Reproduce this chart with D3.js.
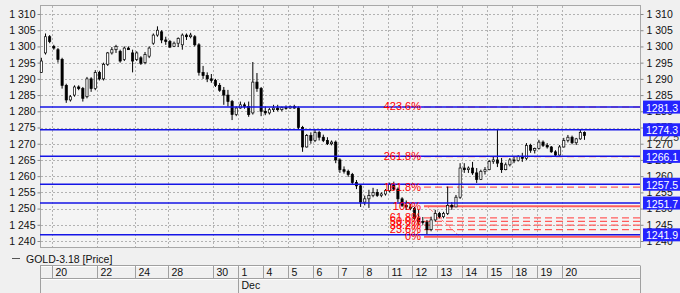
<!DOCTYPE html>
<html>
<head>
<meta charset="utf-8">
<script src="https://cdn.jsdelivr.net/npm/d3@7"></script>
<style>
body { margin: 0; background: #f0f0f0; }
svg { display: block; font-family: "Liberation Sans", Arial, sans-serif; font-size: 10.5px; }
</style>
</head>
<body>
<div id="chart"></div>
<script>
// Trading days on the chart and how many 4h bars each one holds
var dayDates = ["2017-11-17", "2017-11-20", "2017-11-21", "2017-11-22", "2017-11-23", "2017-11-24",
    "2017-11-27", "2017-11-28", "2017-11-29", "2017-11-30", "2017-12-01", "2017-12-04", "2017-12-05",
    "2017-12-06", "2017-12-07", "2017-12-08", "2017-12-11", "2017-12-12", "2017-12-13", "2017-12-14",
    "2017-12-15", "2017-12-18", "2017-12-19", "2017-12-20"];
var dayBars = [3, 5, 6, 6, 3, 2, 6, 5, 6, 6, 6, 6, 6, 6, 6, 6, 6, 6, 6, 6, 6, 6, 6, 6];

// Days that get a label on the time axis
var tickDates = ["2017-11-20", "2017-11-22", "2017-11-24", "2017-11-28", "2017-11-30", "2017-12-01",
    "2017-12-04", "2017-12-05", "2017-12-06", "2017-12-07", "2017-12-08", "2017-12-11", "2017-12-12",
    "2017-12-13", "2017-12-14", "2017-12-15", "2017-12-18", "2017-12-19", "2017-12-20"];
var monthDates = ["2017-12-01"];

// GOLD-3.18 price bars
var opens = [1292, 1298, 1303, 1300, 1299, 1296, 1288, 1283.5, 1285, 1287.5,
    1287, 1284.5, 1290, 1287, 1292, 1290, 1294.5, 1298, 1299, 1298.5,
    1296, 1299.5, 1298, 1296, 1296.5, 1295, 1297, 1301, 1303.5, 1304.5,
    1302, 1301.5, 1300, 1301, 1300.5, 1303.5, 1303, 1303, 1300.5, 1292,
    1291, 1290, 1289.5, 1288, 1286.5, 1285, 1283, 1279, 1281, 1282,
    1281.5, 1279.5, 1289, 1287, 1280, 1279.5, 1280.5, 1281, 1280.5, 1281.2,
    1281, 1281.5, 1281, 1275, 1269, 1272.5, 1271, 1273.5, 1272, 1271,
    1270, 1270.5, 1265, 1262, 1261.5, 1260.5, 1258, 1257, 1252, 1253,
    1254, 1255, 1254, 1254.5, 1255.5, 1257.5, 1256, 1253, 1251, 1250.5,
    1250, 1247, 1246, 1245.8, 1243.5, 1246.5, 1248.5, 1247.5, 1248.5, 1251,
    1250.5, 1253.5, 1262.5, 1262, 1262.5, 1261, 1259, 1261.5, 1262, 1264.5,
    1265, 1264, 1262, 1263.5, 1265, 1264.8, 1266, 1265.5, 1269.5, 1268,
    1268.5, 1270.5, 1269.5, 1269, 1267.5, 1266.5, 1269, 1271, 1272, 1270.3,
    1271.5, 1273.5];
var highs = [1296.5, 1304, 1303.5, 1300.5, 1299.5, 1296.5, 1288.5, 1285, 1288, 1288,
    1287.5, 1290.6, 1290.5, 1292.7, 1292.5, 1295, 1298.3, 1299.8, 1300.5, 1299,
    1300, 1300, 1299, 1298.5, 1297, 1298.3, 1300, 1304, 1306.2, 1305,
    1303, 1302, 1301.5, 1302.8, 1304, 1304, 1304.2, 1303.5, 1301, 1294,
    1292, 1291.5, 1290, 1288.7, 1287.5, 1286.6, 1283.5, 1281.5, 1283, 1282.7,
    1283, 1295.2, 1291.8, 1287.5, 1281.5, 1281, 1282, 1282, 1281.5, 1281.8,
    1281.8, 1282, 1281.5, 1275.5, 1273, 1273.5, 1274.4, 1274, 1272.8, 1272,
    1271, 1271, 1265.5, 1263, 1262, 1261, 1258.8, 1257.5, 1254, 1255.8,
    1256.4, 1256, 1255, 1256, 1258, 1258.3, 1256.5, 1253.5, 1252.5, 1251.5,
    1250.5, 1249.6, 1247.4, 1246.5, 1247.5, 1249.6, 1249, 1249, 1256.8, 1252,
    1254.2, 1264, 1264, 1263, 1264.4, 1262.5, 1262, 1262.8, 1265, 1266,
    1274.3, 1265.6, 1264.2, 1265.6, 1266, 1266.5, 1267.2, 1270.2, 1270, 1268.8,
    1271.2, 1271, 1270.2, 1269.3, 1268, 1269.6, 1271.8, 1272.7, 1272.5, 1271.8,
    1274.3, 1273.8];
var lows = [1291.8, 1297.5, 1301, 1299, 1295, 1287, 1282.6, 1283, 1284.5, 1286.5,
    1283, 1284, 1286, 1286.5, 1289.5, 1289.5, 1294, 1297.5, 1298, 1295,
    1295.5, 1299, 1292, 1295.5, 1294.3, 1294.5, 1296.4, 1300.5, 1303, 1301,
    1300.5, 1299.5, 1299.8, 1299.8, 1299, 1302, 1302.5, 1300, 1291, 1290,
    1289, 1288.8, 1287.5, 1286, 1282, 1281.5, 1277.3, 1278.5, 1280.8, 1280.8,
    1278.3, 1279, 1286, 1278.5, 1278.8, 1279, 1279.8, 1280, 1280, 1280.5,
    1280.8, 1280.8, 1274.3, 1267.5, 1268.8, 1270, 1270.5, 1271, 1270.5, 1269.6,
    1269.5, 1264, 1261, 1260.8, 1259.8, 1257.3, 1256, 1250.5, 1251, 1250.2,
    1253.5, 1253.6, 1253.5, 1254, 1255, 1255.5, 1252, 1250.5, 1249.6, 1249.5,
    1246.5, 1245, 1245, 1241.9, 1243, 1246, 1247, 1247, 1248, 1249.6,
    1250.5, 1253, 1261, 1261, 1260.4, 1257.9, 1258.8, 1260.5, 1261.8, 1263.8,
    1262.8, 1261, 1261.8, 1263, 1264, 1264.5, 1264.4, 1265, 1267.2, 1267,
    1268.2, 1269, 1268.5, 1267.2, 1265.9, 1266.3, 1268.8, 1270.4, 1269.8, 1269.6,
    1271.2, 1271.2];
var closes = [1295.5, 1303, 1301.5, 1299.5, 1296, 1288, 1283.5, 1284.5, 1287.5, 1287,
    1284, 1290, 1287, 1292, 1290, 1294.5, 1298, 1299, 1300, 1295.5,
    1299.5, 1299, 1295.5, 1298, 1294.8, 1297.5, 1299.5, 1303.5, 1305, 1302,
    1301.5, 1299.8, 1301, 1302.5, 1303.5, 1303, 1303.5, 1300.5, 1292, 1291,
    1290, 1289.5, 1288, 1286.5, 1285, 1283, 1279, 1281, 1282, 1281.5,
    1279, 1289, 1287, 1280, 1279.5, 1280.5, 1281, 1280.5, 1281.2, 1281,
    1281.5, 1281, 1275, 1269, 1272.5, 1271, 1273.5, 1272, 1271, 1270,
    1270.5, 1265, 1262, 1261.5, 1260.5, 1258, 1257, 1252, 1253, 1254,
    1255, 1254, 1254.5, 1255.5, 1257.5, 1256, 1253, 1251, 1250.5, 1250,
    1247, 1246, 1245.8, 1243.5, 1246.5, 1248.5, 1247.5, 1248.5, 1251, 1250.5,
    1253.5, 1262.5, 1262, 1262.5, 1261, 1259, 1261.5, 1262, 1264.5, 1265,
    1264, 1262, 1263.5, 1265, 1264.8, 1266, 1265.5, 1269.5, 1268, 1268.5,
    1270.5, 1269.5, 1269, 1267.5, 1266.5, 1269, 1271, 1272, 1270.3, 1271.5,
    1273.5, 1272.5];

// Horizontal price lines drawn by the user
var levels = [1281.3, 1274.3, 1266.1, 1257.5, 1251.7, 1241.9];

// Fibonacci retracement (anchor bars and prices)
var fibRatios = [0, 0.236, 0.382, 0.5, 0.618, 1, 1.618, 2.618, 4.236];
var fibLabels = ["0%", "23.6%", "38.2%", "50.0%", "61.8%", "100%", "161.8%", "261.8%", "423.6%"];
var fibLow = 1241.3, fibHigh = 1250.75;
var fibBars = [93, 101];

var yTicks = d3.range(1240, 1311, 5);
var lastPrice = 1272.5;
var seriesName = "GOLD-3.18 [Price]";

var w = 680, h = 293;
var plotLeft = 40, plotRight = 640, plotTop = 5, plotBottom = 247;

var parseDay = d3.timeParse("%Y-%m-%d");
var starts = [0].concat(Array.from(d3.cumsum(dayBars)).slice(0, -1));
var nBars = d3.sum(dayBars);
function startOf(d) { return starts[dayDates.indexOf(d)]; }

var xScale = d3.scaleLinear().domain([0, nBars]).range([39.3, 39.3 + nBars * 4.146]);
var yScale = d3.scaleLinear().domain([1238.15, 1312.78]).range([plotBottom, plotTop]);

var fmt = d3.formatLocale({ decimal: ".", thousands: " ", grouping: [3], currency: ["", ""] }).format(",");

var svg = d3.select("#chart").append("svg")
    .attr("width", w)
    .attr("height", h);

// plot background
svg.append("rect")
    .attr("x", plotLeft + 0.5).attr("y", plotTop + 0.5)
    .attr("width", plotRight - plotLeft).attr("height", plotBottom - plotTop)
    .attr("fill", "#f4f4f4")
    .attr("stroke", "#a8a8a8");

// grid
svg.append("g").selectAll("line")
    .data(yTicks)
    .enter().append("line")
    .attr("x1", plotLeft + 1).attr("x2", plotRight)
    .attr("y1", function (d) { return Math.round(yScale(d)) + 0.5; })
    .attr("y2", function (d) { return Math.round(yScale(d)) + 0.5; })
    .attr("stroke", "#b2b2b2")
    .attr("stroke-dasharray", "2,2");

svg.append("g").selectAll("line")
    .data(tickDates)
    .enter().append("line")
    .attr("x1", function (d) { return Math.round(xScale(startOf(d))) + 0.5; })
    .attr("x2", function (d) { return Math.round(xScale(startOf(d))) + 0.5; })
    .attr("y1", plotTop + 1).attr("y2", plotBottom)
    .attr("stroke", "#b2b2b2")
    .attr("stroke-dasharray", "2,2");

// y axes
var leftAxis = svg.append("g")
    .attr("transform", "translate(" + (plotLeft + 0.5) + ",0)")
    .call(d3.axisLeft(yScale).tickValues(yTicks).tickFormat(fmt).tickSize(3).tickPadding(2));
var rightAxis = svg.append("g")
    .attr("transform", "translate(" + (plotRight + 0.5) + ",0)")
    .call(d3.axisRight(yScale).tickValues(yTicks).tickFormat(fmt).tickSize(3).tickPadding(3));
[leftAxis, rightAxis].forEach(function (a) {
    a.select(".domain").remove();
    a.selectAll("line").attr("stroke", "#888");
    a.selectAll("text").attr("fill", "#111").style("font-size", "10.5px").style("font-family", "'Liberation Sans', Arial, sans-serif");
});

// last price text (sits behind the level boxes)
svg.append("text")
    .attr("x", 647)
    .attr("y", yScale(lastPrice) + 1)
    .attr("dominant-baseline", "central")
    .attr("fill", "#333")
    .text(lastPrice.toFixed(1));

// fibonacci levels
var fib = svg.append("g");
fib.selectAll("line")
    .data(fibRatios)
    .enter().append("line")
    .attr("x1", 424).attr("x2", plotRight)
    .attr("y1", function (d) { return yScale(fibLow + d * (fibHigh - fibLow)); })
    .attr("y2", function (d) { return yScale(fibLow + d * (fibHigh - fibLow)); })
    .attr("stroke", "#ff5c5c")
    .attr("stroke-width", function (d) { return (d === 0 || d === 1) ? 2 : 1.2; })
    .attr("stroke-dasharray", function (d) { return (d === 0 || d === 1) ? null : "7,4"; });
fib.append("line")
    .attr("x1", xScale(fibBars[0] + 0.5)).attr("y1", yScale(fibHigh))
    .attr("x2", xScale(fibBars[1] + 0.5)).attr("y2", yScale(fibLow))
    .attr("stroke", "#ff7070")
    .attr("stroke-dasharray", "3,2");

// candles
var candles = svg.append("g");
d3.range(nBars).forEach(function (i) {
    var x = xScale(i + 0.5);
    candles.append("line")
        .attr("x1", x).attr("x2", x)
        .attr("y1", yScale(highs[i])).attr("y2", yScale(lows[i]))
        .attr("stroke", "#000")
        .attr("stroke-width", 1);
    var yo = yScale(opens[i]), yc = yScale(closes[i]);
    candles.append("rect")
        .attr("x", x - 1.1)
        .attr("y", Math.min(yo, yc))
        .attr("width", 2.2)
        .attr("height", Math.max(1, Math.abs(yo - yc)))
        .attr("fill", closes[i] >= opens[i] ? "#ffffff" : "#000")
        .attr("stroke", "#000")
        .attr("stroke-width", 0.7);
});

// horizontal levels
svg.append("g").selectAll("line")
    .data(levels)
    .enter().append("line")
    .attr("x1", plotLeft).attr("x2", plotRight)
    .attr("y1", function (d) { return yScale(d); })
    .attr("y2", function (d) { return yScale(d); })
    .attr("stroke", "#1414e6")
    .attr("stroke-width", 1.5);

// fibonacci labels, drawn over the level lines
svg.append("g").selectAll("text")
    .data(fibRatios)
    .enter().append("text")
    .attr("x", 421)
    .attr("y", function (d) { return yScale(fibLow + d * (fibHigh - fibLow)) - 0.5; })
    .attr("text-anchor", "end")
    .attr("dominant-baseline", "central")
    .attr("fill", "#ff0000")
    .style("font-size", "11px")
    .text(function (d, i) { return fibLabels[i]; });

var boxes = svg.append("g").selectAll("g")
    .data(levels)
    .enter().append("g")
    .attr("transform", function (d) { return "translate(643," + yScale(d) + ")"; });
boxes.append("rect")
    .attr("x", 0).attr("y", -6.5)
    .attr("width", 37).attr("height", 13)
    .attr("fill", "#2424ff");
boxes.append("text")
    .attr("x", 3).attr("y", 0.5)
    .attr("dominant-baseline", "central")
    .attr("fill", "#fff")
    .text(function (d) { return d.toFixed(1); });

// legend
svg.append("line")
    .attr("x1", 12).attr("x2", 20)
    .attr("y1", 258.5).attr("y2", 258.5)
    .attr("stroke", "#555");
svg.append("text")
    .attr("x", 26).attr("y", 258.5)
    .attr("dominant-baseline", "central")
    .attr("fill", "#111")
    .text(seriesName);

// time axis box
var box = svg.append("g");
[265.5, 278.5].forEach(function (y) {
    box.append("line").attr("x1", plotLeft).attr("x2", plotRight).attr("y1", y).attr("y2", y).attr("stroke", "#a0a0a0");
    box.append("line").attr("x1", plotLeft).attr("x2", plotRight).attr("y1", y + 1).attr("y2", y + 1).attr("stroke", "#fff");
});
box.append("line").attr("x1", plotLeft + 0.5).attr("x2", plotLeft + 0.5).attr("y1", 265.5).attr("y2", h).attr("stroke", "#a0a0a0");
box.append("line").attr("x1", plotRight + 0.5).attr("x2", plotRight + 0.5).attr("y1", 265.5).attr("y2", h).attr("stroke", "#a0a0a0");

var dayAxis = svg.append("g")
    .attr("transform", "translate(0,266)")
    .call(d3.axisBottom(xScale)
        .tickValues(tickDates.map(startOf))
        .tickSize(12.5)
        .tickFormat(function (d) { return d3.timeFormat("%-d")(parseDay(dayDates[starts.indexOf(d)])); }));
var monthAxis = svg.append("g")
    .attr("transform", "translate(0,279)")
    .call(d3.axisBottom(xScale)
        .tickValues(monthDates.map(startOf))
        .tickSize(14)
        .tickFormat(function (d) { return d3.timeFormat("%b")(parseDay(dayDates[starts.indexOf(d)])); }));
[dayAxis, monthAxis].forEach(function (a) {
    a.select(".domain").remove();
    a.selectAll(".tick").attr("transform", function (d) { return "translate(" + (Math.round(xScale(d)) + 0.5) + ",0)"; });
    a.selectAll("line").attr("stroke", "#a0a0a0");
    a.selectAll("text")
        .attr("text-anchor", "start")
        .attr("x", 3).attr("y", 2.5)
        .attr("fill", "#111")
        .style("font-size", "10.5px")
        .style("font-family", "'Liberation Sans', Arial, sans-serif");
});
</script>
</body>
</html>
